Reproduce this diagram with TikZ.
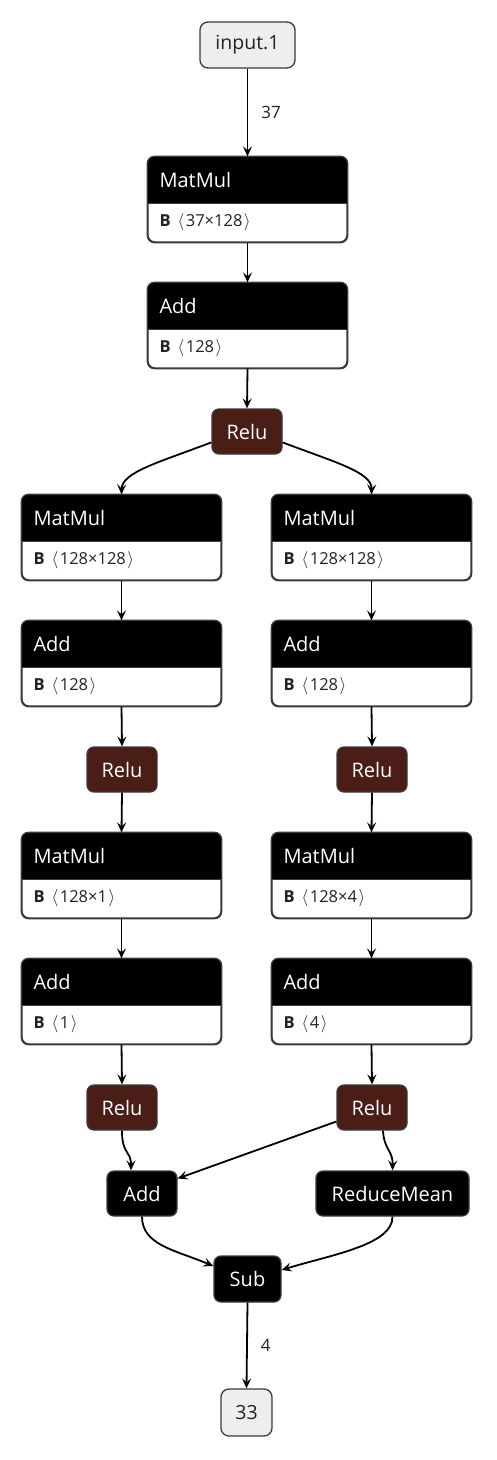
\documentclass[tikz,border=0pt]{standalone}
\usepackage{fontspec}
\setmainfont{Open Sans}
\usetikzlibrary{arrows.meta,calc}
\definecolor{bordergray}{HTML}{3A3A3A}
\definecolor{reluc}{HTML}{4A1D17}
\definecolor{iofill}{HTML}{EEEEEE}
\definecolor{txt}{HTML}{222222}
\newcommand{\ang}[1]{$\langle$\kern1.5pt#1\kern1.5pt$\rangle$}
\newcommand{\mkop}[5]{%
  \node[opframe] (#1) at (#2,#3) {};
  \begin{scope}
    \clip ($(#1.north west)+(-2,-2)$) rectangle ($(#1.east)+(2,3.5)$);
    \fill[black, rounded corners=7pt] (#1.north west) rectangle (#1.south east);
  \end{scope}
  \draw[bordergray, line width=0.8pt] ($(#1.west)+(0,3.5)$) -- ($(#1.east)+(0,3.5)$);
  \draw[bordergray, line width=1.3pt, rounded corners=7pt] (#1.north west) rectangle (#1.south east);
  \node[hdrtext] (#1t) at ($(#1.north west)+(12,24)$) {#4};
  \node[bodytext] (#1b) at ($(#1.west)+(12,23)$) {\textbf{B}\kern7pt#5};
}
\begin{document}
\begin{tikzpicture}[x=1pt,y=-1pt,
  edge/.style={draw=black, line width=1.8pt, -{Stealth[length=10pt,width=9pt,inset=4pt]}},
  opframe/.style={draw=bordergray, line width=1.3pt, rounded corners=7pt, minimum width=199pt, minimum height=85pt, inner sep=0pt, fill=white},
  hdrtext/.style={anchor=west, text=white, inner sep=0pt, font=\fontsize{20}{24}\selectfont},
  bodytext/.style={anchor=west, text=txt, inner sep=0pt, font=\fontsize{16.5}{19}\selectfont},
  smallop/.style={draw=bordergray, line width=1.3pt, rounded corners=7pt, minimum height=45pt, inner sep=0pt, text=white, font=\fontsize{20}{24}\selectfont},
  reluop/.style={smallop, fill=reluc, minimum width=70pt},
  blackop/.style={smallop, fill=black},
  ionode/.style={draw=bordergray, line width=1.3pt, rounded corners=8pt, fill=iofill, text=txt, minimum height=46pt, inner sep=0pt, font=\fontsize{19.5}{23}\selectfont},
  elabel/.style={text=txt, inner sep=0pt, font=\fontsize{17}{20}\selectfont}
]
\useasboundingbox (0,0) rectangle (496,1460);

\node[ionode, minimum width=95pt] (in) at (247.5,45) {input.1};
\mkop{mm0}{247.5}{199.5}{MatMul}{\ang{37×128}}
\mkop{add0}{247.5}{325.5}{Add}{\ang{128}}
\node[reluop] (relu0) at (247,431.5) {Relu};

\mkop{mmL}{121.5}{537.5}{MatMul}{\ang{128×128}}
\mkop{mmR}{371.5}{537.5}{MatMul}{\ang{128×128}}
\mkop{addL}{121.5}{663.5}{Add}{\ang{128}}
\mkop{addR}{371.5}{663.5}{Add}{\ang{128}}
\node[reluop] (reluL) at (122,769.5) {Relu};
\node[reluop] (reluR) at (372,769.5) {Relu};
\mkop{mm2L}{121.5}{875.5}{MatMul}{\ang{128×1}}
\mkop{mm2R}{371.5}{875.5}{MatMul}{\ang{128×4}}
\mkop{add2L}{121.5}{1001.5}{Add}{\ang{1}}
\mkop{add2R}{371.5}{1001.5}{Add}{\ang{4}}
\node[reluop] (relu2L) at (122,1107.5) {Relu};
\node[reluop] (relu2R) at (372,1107.5) {Relu};

\node[blackop, minimum width=70pt] (addF) at (142,1193.5) {Add};
\node[blackop, minimum width=153pt] (rmean) at (392.5,1193.5) {ReduceMean};
\node[blackop, minimum width=67pt, minimum height=46pt] (sub) at (247.5,1279) {Sub};
\node[ionode, minimum width=51pt, minimum height=47pt] (out) at (246.5,1412.5) {33};

% edges
\draw[edge] (in.south) -- (mm0.north) node[elabel, pos=0.5, right=13pt] (l37) {37};
\draw[edge] (mm0.south) -- (add0.north);
\draw[edge] (add0.south) -- (relu0.north);
\draw[edge] (relu0.197) .. controls (160,462) and (122,472) .. (mmL.north);
\draw[edge] (relu0.-17) .. controls (334,462) and (372,472) .. (mmR.north);
\draw[edge] (mmL.south) -- (addL.north);
\draw[edge] (mmR.south) -- (addR.north);
\draw[edge] (addL.south) -- (reluL.north);
\draw[edge] (addR.south) -- (reluR.north);
\draw[edge] (reluL.south) -- (mm2L.north);
\draw[edge] (reluR.south) -- (mm2R.north);
\draw[edge] (mm2L.south) -- (add2L.north);
\draw[edge] (mm2R.south) -- (add2R.north);
\draw[edge] (add2L.south) -- (relu2L.north);
\draw[edge] (add2R.south) -- (relu2R.north);

\draw[edge] (relu2L.south) .. controls (122,1155) and (131,1150) .. ($(addF.north)+(-11,0)$);
\draw[edge] ($(relu2R.west)+(0,14)$) -- ($(addF.east)+(0,-15)$);
\draw[edge] ($(relu2R.south)+(11,0)$) .. controls (384,1150) and (393,1150) .. (rmean.north);
\draw[edge] (addF.south) .. controls (142,1245) and (175,1250) .. ($(sub.west)+(0,-13)$);
\draw[edge] (rmean.south) .. controls (393,1245) and (330,1255) .. ($(sub.east)+(0,-9)$);
\draw[edge] (sub.south) -- (out.north) node[elabel, pos=0.5, right=13pt] (l4) {4};
\end{tikzpicture}
\end{document}
